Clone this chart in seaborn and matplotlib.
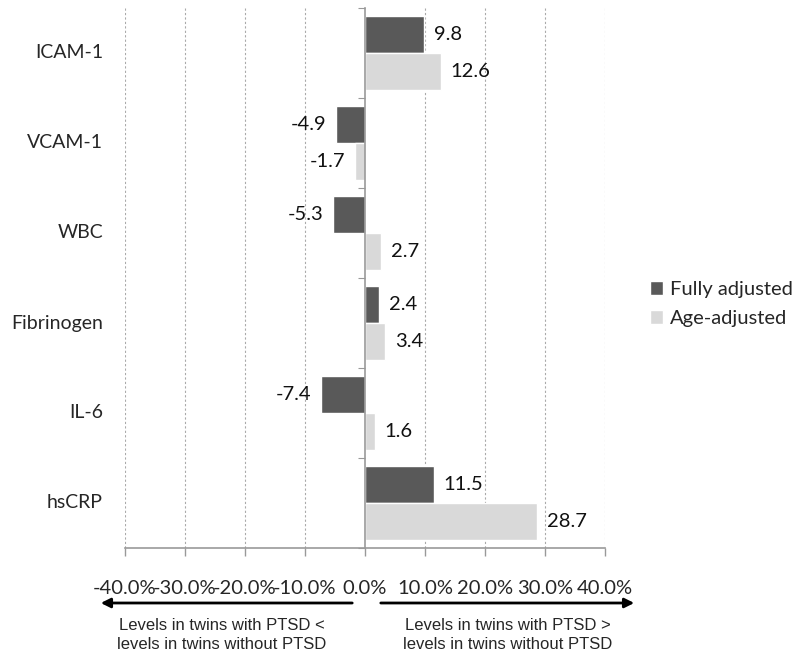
import matplotlib
matplotlib.use("Agg")
import matplotlib.pyplot as plt
import seaborn as sns
import pandas as pd

categories = ["ICAM-1", "VCAM-1", "WBC", "Fibrinogen", "IL-6", "hsCRP"]
fully_adjusted = [9.8, -4.9, -5.3, 2.4, -7.4, 11.5]
age_adjusted = [12.6, -1.7, 2.7, 3.4, 1.6, 28.7]
series = ["Fully adjusted", "Age-adjusted"]
x_ticks = [-40, -30, -20, -10, 0, 10, 20, 30, 40]
left_note = "Levels in twins with PTSD <\nlevels in twins without PTSD"
right_note = "Levels in twins with PTSD >\nlevels in twins without PTSD"

df = pd.DataFrame({
    "marker": categories * 2,
    "value": fully_adjusted + age_adjusted,
    "model": [series[0]] * len(categories) + [series[1]] * len(categories),
})

sns.set_style("white")
plt.rcParams["font.family"] = ["Lato", "DejaVu Sans"]

fig = plt.figure(figsize=(8, 6.62), dpi=100)
ax = fig.add_axes([125 / 800, 1 - 548 / 662, 480 / 800, 540 / 662])

sns.barplot(data=df, y="marker", x="value", hue="model", order=categories,
            hue_order=series, palette=["#595959", "#d9d9d9"], orient="h",
            width=0.83, gap=0, ax=ax, legend=True, saturation=1, errorbar=None)

for cont in ax.containers:
    ax.bar_label(cont, fmt="%.1f", padding=7, fontsize=14.5, color="#111111")

ax.set_xlim(-40, 40)
ax.set_ylim(len(categories) - 0.5, -0.5)
ax.set_xticks(x_ticks)
ax.set_xticklabels([f"{t:.1f}%" for t in x_ticks], fontsize=14.5)
ax.tick_params(axis="x", direction="out", length=6, width=1, color="#999999",
               pad=17, bottom=True)
ax.set_xlabel("")
ax.set_ylabel("")

# y axis at zero with ticks at category boundaries
ax.spines["left"].set_position(("data", 0))
for s in ["top", "right"]:
    ax.spines[s].set_visible(False)
for s in ["left", "bottom"]:
    ax.spines[s].set_color("#999999")
    ax.spines[s].set_linewidth(1.2)
ax.set_yticks([i + 0.5 for i in range(-1, len(categories))])
ax.set_yticklabels([])
ax.tick_params(axis="y", direction="out", length=5, color="#999999", left=True)

for t in x_ticks:
    if t != 0:
        ax.axvline(t, color="#aaaaaa", ls=(0, (2, 2)), lw=0.8, zorder=0)

trans = ax.get_yaxis_transform()
for i, c in enumerate(categories):
    ax.text(-0.046, i, c, transform=trans, ha="right", va="center", fontsize=14)

leg = ax.legend(loc="center left", bbox_to_anchor=(632 / 800, 1 - 304 / 662),
                bbox_transform=fig.transFigure, frameon=False, fontsize=14.5,
                handlelength=0.65, handleheight=0.65, handletextpad=0.35,
                labelspacing=0.6)

# arrows
ya = 1 - 603 / 662
fig.add_artist(matplotlib.patches.FancyArrowPatch(
    (355 / 800, ya), (98 / 800, ya), transform=fig.transFigure,
    arrowstyle="-|>", mutation_scale=14, lw=2, color="black"))
fig.add_artist(matplotlib.patches.FancyArrowPatch(
    (378 / 800, ya), (637 / 800, ya), transform=fig.transFigure,
    arrowstyle="-|>", mutation_scale=14, lw=2, color="black"))

fig.text(222 / 800, 1 - 635 / 662, left_note, ha="center", va="center",
         fontsize=12, family=["Liberation Sans", "DejaVu Sans"], linespacing=1.3)
fig.text(508 / 800, 1 - 635 / 662, right_note, ha="center", va="center",
         fontsize=12, family=["Liberation Sans", "DejaVu Sans"], linespacing=1.3)

fig.savefig("out.png", dpi=100)
